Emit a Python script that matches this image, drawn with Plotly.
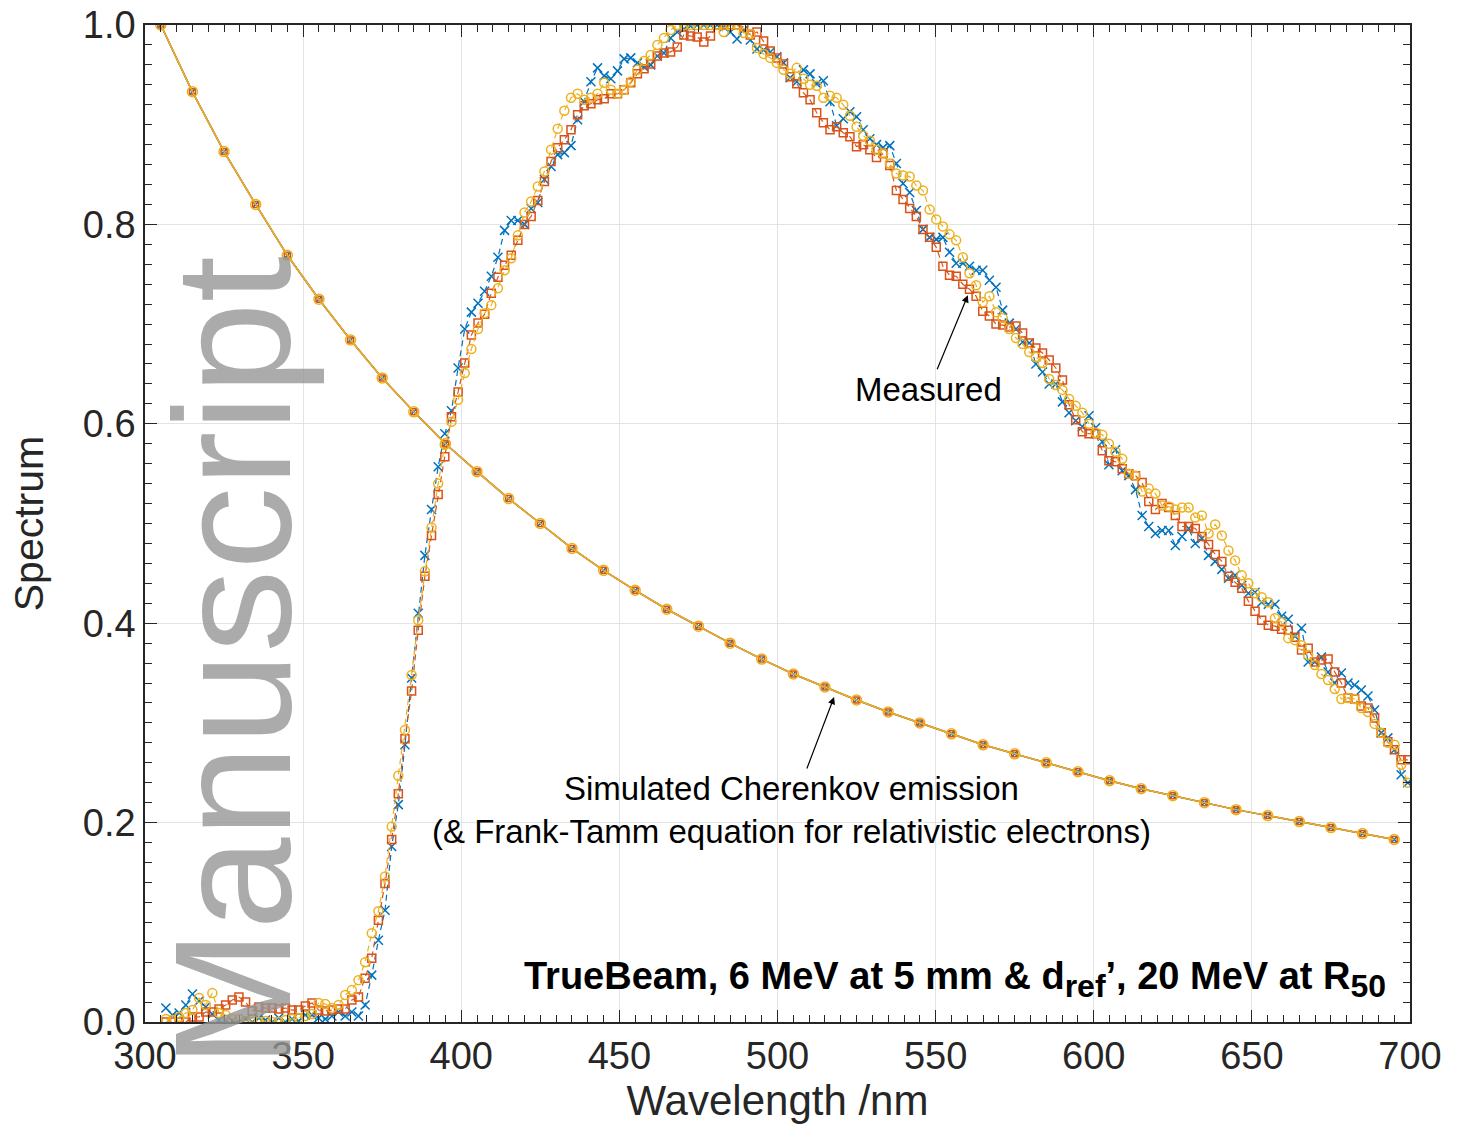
import plotly.graph_objects as go

# ---------------- data ----------------
wavelength = [306.6, 308.7, 310.8, 312.9, 315.0, 317.1, 319.2, 321.3, 323.4, 325.5,
              327.6, 329.7, 331.8, 333.9, 336.0, 338.1, 340.2, 342.3, 344.4, 346.5,
              348.6, 350.7, 352.8, 354.9, 357.0, 359.1, 361.2, 363.3, 365.4, 367.5,
              369.6, 371.7, 373.8, 375.9, 378.0, 380.1, 382.2, 384.3, 386.4, 388.5,
              390.6, 392.7, 394.8, 396.9, 399.0, 401.1, 403.2, 405.3, 407.4, 409.5,
              411.6, 413.7, 415.8, 417.9, 420.0, 422.1, 424.2, 426.3, 428.4, 430.5,
              432.6, 434.7, 436.8, 438.9, 441.0, 443.1, 445.2, 447.3, 449.4, 451.5,
              453.6, 455.7, 457.8, 459.9, 462.0, 464.1, 466.2, 468.3, 470.4, 472.5,
              474.6, 476.7, 478.8, 480.9, 483.0, 485.1, 487.2, 489.3, 491.4, 493.5,
              495.6, 497.7, 499.8, 501.9, 504.0, 506.1, 508.2, 510.3, 512.4, 514.5,
              516.6, 518.7, 520.8, 522.9, 525.0, 527.1, 529.2, 531.3, 533.4, 535.5,
              537.6, 539.7, 541.8, 543.9, 546.0, 548.1, 550.2, 552.3, 554.4, 556.5,
              558.6, 560.7, 562.8, 564.9, 567.0, 569.1, 571.2, 573.3, 575.4, 577.5,
              579.6, 581.7, 583.8, 585.9, 588.0, 590.1, 592.2, 594.3, 596.4, 598.5,
              600.6, 602.7, 604.8, 606.9, 609.0, 611.1, 613.2, 615.3, 617.4, 619.5,
              621.6, 623.7, 625.8, 627.9, 630.0, 632.1, 634.2, 636.3, 638.4, 640.5,
              642.6, 644.7, 646.8, 648.9, 651.0, 653.1, 655.2, 657.3, 659.4, 661.5,
              663.6, 665.7, 667.8, 669.9, 672.0, 674.1, 676.2, 678.3, 680.4, 682.5,
              684.6, 686.7, 688.8, 690.9, 693.0, 695.1, 697.2, 699.3]

measured_6mev_5mm = [
    0.014, 0.007, 0.009, 0.017, 0.028, 0.021, 0.015, 0.008, 0.002, 0.002,
    0.001, 0.000, 0.003, 0.000, 0.004, 0.002, 0.000, 0.004, 0.000, 0.003,
    0.001, 0.007, 0.007, 0.004, 0.003, 0.006, 0.010, 0.006, 0.010, 0.006,
    0.017, 0.047, 0.082, 0.112, 0.176, 0.218, 0.278, 0.345, 0.410, 0.468,
    0.514, 0.557, 0.590, 0.613, 0.656, 0.695, 0.712, 0.721, 0.733, 0.748,
    0.767, 0.794, 0.804, 0.804, 0.800, 0.816, 0.822, 0.845, 0.858, 0.870,
    0.872, 0.879, 0.905, 0.923, 0.943, 0.957, 0.949, 0.946, 0.954, 0.966,
    0.967, 0.962, 0.958, 0.960, 0.969, 0.972, 0.987, 0.993, 0.996, 0.999,
    1.000, 1.000, 1.000, 1.000, 0.998, 0.993, 0.986, 0.995, 0.985, 0.976,
    0.975, 0.973, 0.968, 0.962, 0.947, 0.943, 0.955, 0.951, 0.941, 0.944,
    0.923, 0.899, 0.906, 0.913, 0.908, 0.895, 0.886, 0.880, 0.877, 0.879,
    0.861, 0.841, 0.832, 0.814, 0.795, 0.787, 0.785, 0.787, 0.772, 0.761,
    0.761, 0.758, 0.754, 0.754, 0.744, 0.737, 0.714, 0.701, 0.695, 0.682,
    0.681, 0.660, 0.652, 0.640, 0.640, 0.622, 0.611, 0.603, 0.597, 0.608,
    0.596, 0.582, 0.559, 0.574, 0.553, 0.548, 0.534, 0.508, 0.497, 0.490,
    0.493, 0.493, 0.478, 0.487, 0.495, 0.480, 0.485, 0.468, 0.462, 0.454,
    0.445, 0.448, 0.438, 0.430, 0.431, 0.421, 0.419, 0.419, 0.407, 0.404,
    0.387, 0.395, 0.361, 0.361, 0.366, 0.351, 0.340, 0.350, 0.340, 0.338,
    0.333, 0.327, 0.313, 0.290, 0.285, 0.273, 0.248, 0.240]

measured_6mev_dref = [
    0.000, 0.000, 0.000, 0.000, 0.005, 0.005, 0.010, 0.010, 0.013, 0.017,
    0.022, 0.025, 0.020, 0.011, 0.015, 0.014, 0.014, 0.013, 0.014, 0.012,
    0.012, 0.016, 0.019, 0.012, 0.011, 0.012, 0.013, 0.013, 0.022, 0.025,
    0.044, 0.064, 0.102, 0.139, 0.183, 0.229, 0.284, 0.332, 0.393, 0.447,
    0.488, 0.529, 0.567, 0.607, 0.632, 0.661, 0.689, 0.701, 0.710, 0.731,
    0.747, 0.759, 0.769, 0.784, 0.800, 0.808, 0.824, 0.843, 0.863, 0.877,
    0.885, 0.895, 0.910, 0.919, 0.921, 0.925, 0.926, 0.931, 0.931, 0.935,
    0.942, 0.951, 0.956, 0.961, 0.969, 0.972, 0.973, 0.978, 0.990, 0.989,
    0.988, 0.983, 0.989, 1.000, 1.000, 1.000, 1.000, 0.998, 0.990, 0.993,
    0.984, 0.974, 0.967, 0.961, 0.948, 0.941, 0.932, 0.925, 0.912, 0.902,
    0.895, 0.898, 0.892, 0.888, 0.878, 0.880, 0.875, 0.867, 0.871, 0.859,
    0.834, 0.825, 0.816, 0.808, 0.795, 0.787, 0.777, 0.758, 0.749, 0.748,
    0.740, 0.735, 0.728, 0.713, 0.708, 0.700, 0.699, 0.697, 0.698, 0.691,
    0.681, 0.676, 0.671, 0.664, 0.656, 0.644, 0.619, 0.604, 0.592, 0.590,
    0.590, 0.573, 0.563, 0.562, 0.555, 0.550, 0.548, 0.541, 0.522, 0.514,
    0.520, 0.516, 0.508, 0.497, 0.497, 0.495, 0.487, 0.479, 0.469, 0.462,
    0.447, 0.441, 0.435, 0.422, 0.412, 0.403, 0.398, 0.397, 0.394, 0.393,
    0.386, 0.373, 0.375, 0.361, 0.363, 0.364, 0.351, 0.340, 0.325, 0.324,
    0.317, 0.315, 0.305, 0.290, 0.281, 0.273, 0.263, 0.263]

measured_20mev_r50 = [
    0.003, 0.002, 0.005, 0.009, 0.012, 0.024, 0.017, 0.029, 0.009, 0.007,
    0.003, 0.003, 0.001, 0.000, 0.000, 0.001, 0.000, 0.000, 0.002, 0.003,
    0.004, 0.006, 0.008, 0.019, 0.018, 0.014, 0.017, 0.027, 0.032, 0.042,
    0.060, 0.089, 0.111, 0.146, 0.196, 0.247, 0.293, 0.348, 0.403, 0.452,
    0.496, 0.540, 0.579, 0.602, 0.624, 0.651, 0.675, 0.695, 0.711, 0.719,
    0.736, 0.754, 0.766, 0.789, 0.812, 0.823, 0.838, 0.853, 0.875, 0.896,
    0.914, 0.927, 0.931, 0.925, 0.927, 0.931, 0.942, 0.935, 0.931, 0.935,
    0.943, 0.955, 0.964, 0.970, 0.980, 0.987, 0.995, 1.000, 1.000, 1.000,
    1.000, 1.000, 1.000, 1.000, 0.993, 1.000, 1.000, 0.992, 0.991, 0.977,
    0.971, 0.967, 0.962, 0.955, 0.951, 0.957, 0.946, 0.940, 0.939, 0.927,
    0.929, 0.927, 0.920, 0.909, 0.898, 0.889, 0.884, 0.875, 0.871, 0.861,
    0.851, 0.849, 0.848, 0.839, 0.834, 0.815, 0.805, 0.798, 0.790, 0.784,
    0.767, 0.751, 0.739, 0.722, 0.728, 0.712, 0.706, 0.695, 0.686, 0.680,
    0.672, 0.667, 0.661, 0.645, 0.639, 0.634, 0.625, 0.618, 0.611, 0.600,
    0.591, 0.589, 0.580, 0.572, 0.565, 0.550, 0.548, 0.532, 0.535, 0.530,
    0.518, 0.517, 0.514, 0.516, 0.516, 0.506, 0.508, 0.490, 0.499, 0.488,
    0.473, 0.463, 0.448, 0.440, 0.430, 0.426, 0.421, 0.405, 0.401, 0.385,
    0.383, 0.378, 0.368, 0.358, 0.349, 0.343, 0.334, 0.324, 0.325, 0.324,
    0.315, 0.311, 0.299, 0.290, 0.280, 0.278, 0.258, 0.240]

sim_wavelength = [305, 315, 325, 335, 345, 355, 365, 375, 385, 395,
                  405, 415, 425, 435, 445, 455, 465, 475, 485, 495,
                  505, 515, 525, 535, 545, 555, 565, 575, 585, 595,
                  605, 615, 625, 635, 645, 655, 665, 675, 685, 695]
simulated = [1.000, 0.933, 0.873, 0.820, 0.769, 0.725, 0.684, 0.646, 0.612, 0.580,
             0.552, 0.525, 0.500, 0.475, 0.453, 0.433, 0.414, 0.397, 0.380, 0.364,
             0.349, 0.336, 0.323, 0.311, 0.300, 0.289, 0.278, 0.269, 0.260, 0.251,
             0.242, 0.234, 0.227, 0.220, 0.213, 0.207, 0.201, 0.195, 0.189, 0.183]

x_ticks = [300, 350, 400, 450, 500, 550, 600, 650, 700]
y_ticks = [0.0, 0.2, 0.4, 0.6, 0.8, 1.0]

BLUE = "#0072BD"
RED = "#D95319"
YELLOW = "#EDB120"
FONT = "Liberation Sans, Arial, Helvetica, sans-serif"
AX = "#262626"

fig = go.Figure()

series = [
    (measured_6mev_5mm, BLUE, "x-thin", 9),
    (measured_6mev_dref, RED, "square-open", 8),
    (measured_20mev_r50, YELLOW, "circle-open", 9),
]
for vals, col, sym, sz in series:
    fig.add_trace(go.Scatter(
        x=wavelength, y=vals, mode="lines+markers",
        line=dict(color=col, width=1.2, dash="6px,4px"),
        marker=dict(symbol=sym, size=sz, color=col, line=dict(color=col, width=1.5)),
    ))

for col, sym, sz in [(BLUE, "x-thin", 6), (RED, "square-open", 6), (YELLOW, "circle-open", 10)]:
    fig.add_trace(go.Scatter(
        x=sim_wavelength, y=simulated, mode="lines+markers",
        line=dict(color=col, width=1.5),
        marker=dict(symbol=sym, size=sz, color=col, line=dict(color=col, width=1.5)),
    ))

axis_common = dict(
    ticks="inside", ticklen=12, tickwidth=1.3, tickcolor=AX,
    showline=True, linecolor=AX, linewidth=1.5, mirror="ticks",
    showgrid=True, gridcolor="#e3e3e3", gridwidth=1, zeroline=False,
    tickfont=dict(family=FONT, size=38, color=AX), automargin=False,
)

fig.update_xaxes(
    range=[300, 700], tickvals=x_ticks,
    title=dict(text="Wavelength /nm", font=dict(family=FONT, size=42, color=AX), standoff=8),
    minor=dict(dtick=5, tick0=300, ticks="inside", ticklen=7, tickwidth=1.2, tickcolor=AX, showgrid=False),
    **axis_common,
)
fig.update_yaxes(
    range=[0, 1], tickvals=y_ticks, tickformat=".1f",
    title=dict(text="Spectrum", font=dict(family=FONT, size=41, color=AX), standoff=26),
    minor=dict(dtick=0.02, tick0=0, ticks="inside", ticklen=7, tickwidth=1.2, tickcolor=AX, showgrid=False),
    **axis_common,
)

fig.update_layout(
    width=1460, height=1128,
    margin=dict(l=145, r=50, t=25, b=106),
    plot_bgcolor="white", paper_bgcolor="white",
    showlegend=False,
    font=dict(family=FONT, color=AX),
)

# annotations
fig.add_annotation(
    x=560.2, y=0.729, xref="x", yref="y",
    text="Measured", showarrow=True, arrowhead=2, arrowsize=1.2, arrowwidth=1.2,
    arrowcolor="black", ax=-39, ay=94, standoff=0,
    font=dict(family=FONT, size=33, color="black"),
)
fig.add_annotation(
    x=517.9, y=0.326, xref="x", yref="y",
    text="Simulated Cherenkov emission<br>(&amp; Frank-Tamm equation for relativistic electrons)",
    showarrow=True, arrowhead=2, arrowsize=1.2, arrowwidth=1.2,
    arrowcolor="black", ax=-43, ay=113, standoff=0,
    font=dict(family=FONT, size=33, color="black"), align="center",
)
fig.add_annotation(
    x=0.9826, y=0.043, xref="paper", yref="paper", xanchor="right", yanchor="middle",
    text=("<b>TrueBeam, 6 MeV at 5 mm &amp; d<sub><span style='font-size:32px'>ref</span></sub>"
          "’, 20 MeV at R<sub><span style='font-size:32px'>50</span></sub></b>"),
    showarrow=False,
    font=dict(family="Liberation Sans Narrow, Arial Narrow, Liberation Sans, Arial", size=38, color="black"),
)
# watermark
fig.add_annotation(
    x=(232 - 145) / 1265, y=(1022 - 662) / 997, xref="paper", yref="paper",
    xanchor="center", yanchor="middle", textangle=-90,
    text="Manuscript", showarrow=False,
    font=dict(family=FONT, size=166, color="rgba(150,150,150,0.8)"),
)

fig.write_html("out.html")
